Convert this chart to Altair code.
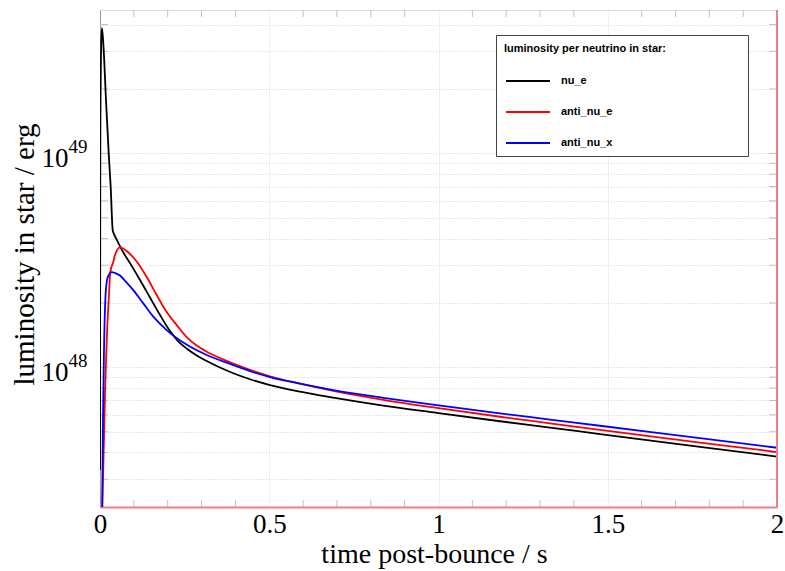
import altair as alt
import pandas as pd

# ---------------- data (luminosity in units of 1e48 erg) ----------------
SERIES = ["nu_e", "anti_nu_e", "anti_nu_x"]
COLORS = ["#000000", "#ff0000", "#0000ff"]

nu_e_t = [0.0, 0.0009, 0.0038, 0.0059, 0.0109, 0.0177, 0.0257, 0.0316, 0.0375, 0.0405,
          0.0502, 0.0650, 0.0886, 0.1182, 0.1477, 0.1773, 0.2068, 0.2304, 0.2561,
          0.2857, 0.3152, 0.3545, 0.3938, 0.4431, 0.5022, 0.5908, 0.6892, 0.8369,
          0.9947, 1.1817, 1.3294, 1.4771, 1.7725, 2.0]
nu_e_L = [0.331, 11.54, 33.83, 38.50, 30.39, 17.75, 10.03, 6.96, 4.38, 4.23,
          3.93, 3.53, 3.07, 2.56, 2.120, 1.756, 1.478, 1.327, 1.224,
          1.135, 1.070, 0.998, 0.9384, 0.880, 0.827, 0.7705, 0.7226, 0.6632,
          0.6130, 0.5599, 0.5233, 0.4880, 0.4250, 0.3830]

anti_nu_e_t = [0.0055, 0.0109, 0.0157, 0.0207, 0.0257, 0.0304, 0.0393, 0.0443, 0.0591,
               0.0789, 0.1084, 0.1380, 0.1675, 0.1970, 0.2266, 0.2561, 0.2857, 0.3152,
               0.3545, 0.3938, 0.4431, 0.5022, 0.5908, 0.6892, 0.8369, 0.9947, 1.1817,
               1.3294, 1.4771, 1.7725, 2.0]
anti_nu_e_L = [0.18, 0.411, 0.845, 1.446, 2.063, 2.788, 3.115, 3.348, 3.637,
               3.495, 3.122, 2.642, 2.177, 1.813, 1.576, 1.386, 1.264, 1.183,
               1.105, 1.042, 0.9745, 0.9087, 0.8390, 0.7767, 0.7055, 0.6466, 0.5877,
               0.5475, 0.5104, 0.4451, 0.4019]

anti_nu_x_t = [0.0059, 0.0089, 0.0118, 0.0157, 0.0207, 0.0266, 0.0340, 0.0452, 0.0591,
               0.0747, 0.0984, 0.1279, 0.1575, 0.1970, 0.2461, 0.3152, 0.3938, 0.4431,
               0.5022, 0.5908, 0.6892, 0.8369, 0.9947, 1.1817, 1.3294, 1.4771, 1.7725,
               2.0]
anti_nu_x_L = [0.18, 0.586, 1.205, 2.063, 2.558, 2.714, 2.788, 2.758, 2.685,
               2.531, 2.297, 1.991, 1.727, 1.494, 1.306, 1.142, 1.025, 0.961,
               0.901, 0.839, 0.7833, 0.7208, 0.6664, 0.6095, 0.5703, 0.5334, 0.4673,
               0.4210]

x_label_values = [0, 0.5, 1, 1.5, 2]
x_minor_ticks = [0.1, 0.2, 0.3, 0.4, 0.6, 0.7, 0.8, 0.9, 1.1, 1.2, 1.3, 1.4,
                 1.6, 1.7, 1.8, 1.9]
y_grid = [3e47, 4e47, 5e47, 6e47, 7e47, 8e47, 9e47,
          1e48, 2e48, 3e48, 4e48, 5e48, 6e48, 7e48, 8e48, 9e48,
          1e49, 2e49, 3e49, 4e49]
decade_values = [1e48, 1e49]
decade_exponents = ["48", "49"]

UNIT = 1e48
Y_MIN, Y_MAX = 0.2225e48, 4.68e49
W, H = 677, 497

frames = []
for name, ts, ls in [("nu_e", nu_e_t, nu_e_L),
                     ("anti_nu_e", anti_nu_e_t, anti_nu_e_L),
                     ("anti_nu_x", anti_nu_x_t, anti_nu_x_L)]:
    frames.append(pd.DataFrame({"t": ts, "L": [v * UNIT for v in ls], "series": name}))
df = pd.concat(frames, ignore_index=True)
df["order"] = range(len(df))

xscale = alt.Scale(domain=[0, 2], nice=False, zero=False)
yscale = alt.Scale(type="log", domain=[Y_MIN, Y_MAX], nice=False)

xaxis = alt.Axis(values=x_label_values, labelExpr="toString(datum.value)",
                 title="time post-bounce / s", titleFont="Liberation Serif",
                 titleFontSize=28, titleFontWeight="normal", titleColor="black",
                 titleBaseline="alphabetic", titleY=55, titleX=334,
                 labelFont="Liberation Serif", labelFontSize=27, labelColor="black",
                 labelPadding=4, labelFlush=False, labelOverlap=False,
                 ticks=False, domain=True, domainColor="#f08080", domainWidth=2,
                 grid=True, gridColor="#d0d0d0", gridDash=[1, 2], gridWidth=1)

yaxis = alt.Axis(values=y_grid,
                 labelExpr="(abs(datum.value/1e48 - 1) < 1e-6 || abs(datum.value/1e49 - 1) < 1e-6) ? '10' : ''",
                 title="luminosity in star / erg", titleFont="Liberation Serif",
                 titleFontSize=29, titleFontWeight="normal", titleColor="black",
                 titleAngle=270, titleBaseline="alphabetic", titleX=-67, titleY=244,
                 labelFont="Liberation Serif", labelFontSize=27, labelColor="black",
                 labelPadding=32, labelOffset=13, labelBaseline="alphabetic",
                 labelOverlap=False,
                 ticks=False, domain=True, domainColor="#999999", domainWidth=1,
                 grid=True, gridColor="#d0d0d0", gridDash=[1, 2], gridWidth=1)

legend = alt.Legend(title="luminosity per neutrino in star:" + "\u00a0" * 24 + "\u200b",
                    orient="none", legendX=396, legendY=25, padding=8,
                    strokeColor="#444444", fillColor="white",
                    titleFont="Liberation Sans", titleFontSize=11,
                    titleFontWeight="bold", titleColor="black", titleLimit=500,
                    titlePadding=21,
                    labelFont="Liberation Sans", labelFontSize=11,
                    labelFontWeight="bold", labelColor="black",
                    symbolType="M-4.4,0H4.4", symbolSize=100, symbolStrokeWidth=2,
                    symbolOffset=18, labelOffset=27, rowPadding=20)

X = alt.X("t:Q", scale=xscale, axis=xaxis)
Y = alt.Y("L:Q", scale=yscale, axis=yaxis)

lines = alt.Chart(df).mark_line(clip=True, strokeWidth=1.8, interpolate="monotone").encode(
    x=X, y=Y,
    color=alt.Color("series:N", scale=alt.Scale(domain=SERIES, range=COLORS), legend=legend),
    order="order:Q",
)

ydf = pd.DataFrame({"L": y_grid})
xdf = pd.DataFrame({"t": x_minor_ticks})
edf = pd.DataFrame({"L": decade_values, "exp": decade_exponents})

left_ticks = alt.Chart(ydf).mark_rule(color="#c0c0c0", strokeWidth=1).encode(
    y=Y, x=alt.value(0), x2=alt.value(8))
right_ticks = alt.Chart(ydf).mark_rule(color="#c0c0c0", strokeWidth=1).encode(
    y=Y, x=alt.value(W - 8), x2=alt.value(W))
top_ticks = alt.Chart(xdf).mark_rule(color="#c0c0c0", strokeWidth=1).encode(
    x=X, y=alt.value(0), y2=alt.value(7))
bottom_ticks = alt.Chart(xdf).mark_rule(color="#c0c0c0", strokeWidth=1).encode(
    x=X, y=alt.value(H - 7), y2=alt.value(H))
right_border = alt.Chart(pd.DataFrame({"t": [2.0]})).mark_rule(
    color="#f08080", strokeWidth=2).encode(x=X)
exponents = alt.Chart(edf).mark_text(
    font="Liberation Serif", fontSize=19, align="left", baseline="alphabetic",
    color="black").encode(y=Y, x=alt.value(-31.5), text="exp:N")

chart = alt.layer(left_ticks, right_ticks, top_ticks, bottom_ticks, lines, right_border,
                  exponents).properties(
    width=W, height=H,
    autosize=alt.AutoSizeParams(type="none"),
    padding={"left": 100, "top": 10, "right": 8, "bottom": 64},
    background="white",
).configure_view(stroke="#999999", strokeWidth=1).configure(font="Liberation Serif")

chart.save("out.html", embed_options={"renderer": "svg", "actions": False})
